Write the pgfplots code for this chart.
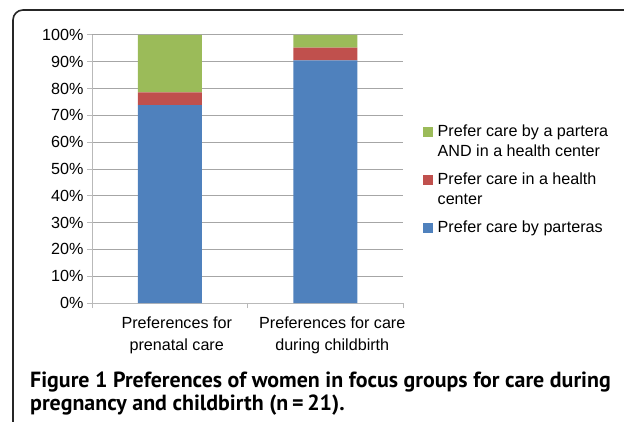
\documentclass[border=0pt]{standalone}
\usepackage{pgfplots}
\pgfplotsset{compat=1.18}
\usepackage{fontspec}
\setmainfont{Liberation Sans}
\newfontfamily\capfont{PT Sans}
\definecolor{cblue}{HTML}{4F81BD}
\definecolor{cred}{HTML}{C0504D}
\definecolor{cgreen}{HTML}{9BBB59}
\definecolor{gridgray}{HTML}{A6A6A6}
\newcommand\legtext[1]{\begin{tabular}[t]{@{}l@{}}#1\end{tabular}}
\begin{document}
\begin{tikzpicture}[x=1bp,y=1bp]
\path[use as bounding box] (0,0) rectangle (624,421);
\draw[line width=1.6bp, black!85, rounded corners=10bp] (13,-10) -- (13,411) -- (640,411);
\begin{axis}[
  at={(92bp,118bp)}, anchor=south west,
  scale only axis, width=311bp, height=268bp,
  ybar stacked, bar width=64bp,
  xmin=-0.5, xmax=1.5, ymin=0, ymax=100,
  xtick={0,1},
  xticklabels={{Preferences for\\prenatal care},{Preferences for care\\during childbirth}},
  minor xtick={-0.5,0.5,1.5},
  ytick={0,10,...,100},
  yticklabel={\pgfmathprintnumber{\tick}\%},
  /pgf/number format/assume math mode=true,
  axis x line*=bottom, axis y line*=left,
  axis line style={draw=gray!55, line width=1bp},
  tick align=outside,
  major tick length=5bp, minor tick length=5bp,
  every tick/.style={draw=gray!55, line width=1bp},
  every major x tick/.append style={draw=none},
  ymajorgrids,
  major grid style={draw=gridgray, line width=1bp},
  ticklabel style={font=\fontsize{16.2}{22}\selectfont},
  xticklabel style={align=center, xshift=7bp, yshift=-5bp},
  legend cell align=left,
  reverse legend,
  legend style={draw=none, fill=none, at={(1.0633,0.678)}, anchor=north west,
    inner sep=0pt, outer sep=0pt, row sep=5bp, column sep=3bp,
    font=\fontsize{16.2}{19.5}\selectfont,
    nodes={inner sep=2bp, text depth=, text height=}, cells={anchor=base west}},
  legend image code/.code={\fill[#1] (0bp,0bp) rectangle (10bp,10bp);},
]
\addplot[fill=cblue, draw=none] coordinates {(0,73.8) (1,90.5)};
\addplot[fill=cred, draw=none] coordinates {(0,4.8) (1,4.8)};
\addplot[fill=cgreen, draw=none] coordinates {(0,21.4) (1,4.7)};
\legend{\legtext{Prefer care by parteras},\legtext{Prefer care in a health\\center},\legtext{Prefer care by a partera\\AND in a health center}}
\end{axis}
\node[anchor=base west, inner sep=0pt] at (30,34) {\capfont\bfseries\fontsize{22}{23}\selectfont Figure 1 Preferences of women in focus groups for care during};
\node[anchor=base west, inner sep=0pt] at (30,11) {\capfont\bfseries\fontsize{22}{23}\selectfont pregnancy and childbirth (n\,=\,21).};
\end{tikzpicture}
\end{document}
